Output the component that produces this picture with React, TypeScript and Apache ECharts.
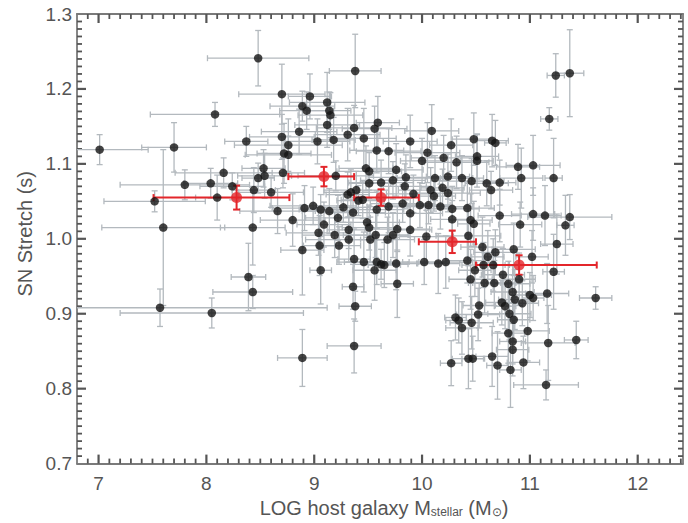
import { useEffect, useRef } from "react";
import * as echarts from "echarts";

// Individual supernovae: host mass (log M_stellar), stretch, and their errors
const massValues = [
  7.01, 7.52, 7.6, 7.7, 7.8, 7.57, 8.05, 8.08, 8.04, 8.16, 8.1, 8.24, 8.37, 8.48, 8.44, 8.43, 8.48, 8.53, 8.39, 8.43,
  8.54, 8.6, 8.66, 8.7, 8.7, 8.71, 8.72, 8.76, 8.76, 8.8, 8.86, 8.89, 8.93, 8.89, 8.91, 8.89, 8.96, 8.99, 9.03, 9.06,
  9.04, 9.05, 9.06, 9.09, 9.12, 9.12, 9.14, 9.15, 9.14, 9.18, 9.19, 9.2, 9.23, 9.22, 9.27, 9.31, 9.31, 9.32, 9.32, 9.36,
  9.34, 9.37, 9.38, 9.37, 9.36, 9.38, 9.37, 9.39, 9.41, 9.46, 9.45, 9.48, 9.51, 9.51, 9.51, 9.49, 9.52, 9.46, 9.56, 9.59,
  9.58, 9.57, 9.58, 9.56, 9.58, 9.62, 9.62, 9.65, 9.69, 9.69, 9.68, 9.73, 9.73, 9.76, 9.76, 9.77, 9.77, 9.82, 9.84, 9.85,
  9.89, 9.89, 9.89, 9.92, 9.98, 10.0, 10.02, 10.04, 10.05, 10.06, 10.08, 10.09, 10.11, 10.12, 10.15, 10.17, 10.19, 10.2, 10.22, 10.24,
  10.24, 10.27, 10.28, 10.28, 10.32, 10.37, 10.42, 10.42, 10.43, 10.45, 10.46, 10.48, 10.48, 10.45, 10.49, 10.27, 10.31, 10.34, 10.37, 10.43,
  10.47, 10.46, 10.51, 10.51, 10.52, 10.53, 10.56, 10.57, 10.58, 10.6, 10.61, 10.64, 10.65, 10.68, 10.65, 10.67, 10.66, 10.68, 10.7, 10.72,
  10.72, 10.74, 10.75, 10.77, 10.8, 10.81, 10.82, 10.84, 10.84, 10.84, 10.85, 10.85, 10.86, 10.89, 10.9, 10.91, 10.92, 10.93, 10.94, 10.98,
  10.8, 11.0, 11.02, 11.03, 11.03, 11.03, 11.14, 11.15, 11.16, 11.17, 11.18, 11.22, 11.22, 11.24, 11.25, 11.33, 11.37, 11.37, 11.43, 11.61,
];
const stretchValues = [
  1.119, 1.05, 1.015, 1.122, 1.072, 0.908, 0.901, 1.166, 1.074, 1.088, 1.055, 1.07, 1.13, 1.241, 1.065, 1.015, 1.081, 1.094, 0.949, 0.929,
  1.084, 1.062, 1.037, 1.193, 1.136, 1.088, 1.114, 1.112, 1.125, 1.025, 1.143, 1.177, 1.171, 0.985, 1.041, 0.841, 1.19, 1.044, 1.13, 1.039,
  1.008, 0.991, 0.958, 1.019, 1.182, 1.152, 1.171, 1.165, 1.037, 1.132, 1.005, 1.084, 0.991, 1.028, 1.042, 1.139, 1.059, 1.012, 0.999, 1.035,
  1.062, 1.148, 1.224, 0.973, 0.936, 0.91, 0.857, 1.065, 1.051, 1.134, 1.052, 1.094, 1.09, 1.074, 1.015, 1.022, 0.999, 0.969, 1.147, 1.155,
  1.118, 1.005, 1.039, 0.958, 0.969, 0.966, 1.075, 0.965, 1.117, 1.043, 0.999, 1.005, 1.078, 1.092, 0.967, 1.013, 0.94, 1.047, 1.07, 1.082,
  1.13, 1.034, 1.012, 1.06, 1.045, 1.104, 0.969, 1.003, 1.115, 1.045, 1.065, 1.144, 1.057, 1.081, 0.967, 1.043, 1.068, 1.108, 0.969, 1.083,
  1.061, 1.125, 1.04, 1.026, 1.102, 1.081, 1.041, 0.971, 1.004, 1.025, 1.077, 1.02, 1.133, 0.946, 0.958, 0.834, 0.895, 0.891, 0.881, 0.84,
  0.84, 0.888, 1.11, 1.104, 0.899, 0.911, 0.989, 0.965, 0.941, 1.074, 0.976, 1.065, 1.131, 1.128, 0.843, 0.941, 0.965, 0.982, 0.831, 1.031,
  1.075, 0.915, 0.952, 0.91, 0.874, 0.9, 0.825, 0.852, 0.863, 0.929, 0.892, 0.986, 0.919, 1.096, 0.946, 1.019, 1.081, 0.914, 0.835, 0.877,
  0.94, 0.925, 0.976, 1.033, 1.098, 0.921, 1.031, 0.805, 0.927, 0.861, 1.16, 1.081, 0.956, 1.218, 0.993, 1.018, 1.221, 1.029, 0.865, 0.921,
];
const massErrors = [
  0.45, 0.47, 0.57, 0.3, 0.6, 1.55, 0.85, 0.6, 0.25, 0.45, 0.2, 0.3, 0.2, 0.47, 0.2, 0.3, 0.15, 0.2, 0.16, 0.37,
  0.25, 0.3, 0.35, 0.4, 0.3, 0.2, 0.25, 0.4, 0.5, 0.3, 0.35, 0.3, 0.25, 0.2, 0.3, 0.23, 0.2, 0.4, 0.3, 0.2,
  0.3, 0.15, 0.1, 0.25, 0.35, 0.3, 0.2, 0.3, 0.25, 0.2, 0.3, 0.35, 0.2, 0.3, 0.25, 0.3, 0.2, 0.2, 0.4, 0.3,
  0.25, 0.35, 0.24, 0.15, 0.1, 0.15, 0.25, 0.3, 0.2, 0.3, 0.2, 0.25, 0.3, 0.2, 0.25, 0.3, 0.2, 0.25, 0.3, 0.2,
  0.25, 0.3, 0.25, 0.2, 0.3, 0.25, 0.3, 0.15, 0.3, 0.2, 0.25, 0.15, 0.3, 0.25, 0.2, 0.3, 0.15, 0.3, 0.2, 0.35,
  0.25, 0.3, 0.2, 0.25, 0.3, 0.2, 0.2, 0.25, 0.3, 0.2, 0.3, 0.25, 0.2, 0.35, 0.2, 0.3, 0.2, 0.3, 0.25, 0.2,
  0.3, 0.2, 0.25, 0.2, 0.3, 0.2, 0.25, 0.2, 0.3, 0.2, 0.3, 0.15, 0.2, 0.2, 0.15, 0.1, 0.1, 0.12, 0.15, 0.15,
  0.1, 0.2, 0.2, 0.15, 0.2, 0.15, 0.2, 0.2, 0.15, 0.2, 0.15, 0.2, 0.15, 0.1, 0.15, 0.2, 0.15, 0.2, 0.1, 0.2,
  0.15, 0.15, 0.2, 0.1, 0.15, 0.2, 0.1, 0.15, 0.12, 0.2, 0.15, 0.2, 0.15, 0.2, 0.15, 0.2, 0.2, 0.15, 0.15, 0.2,
  0.2, 0.2, 0.15, 0.2, 0.25, 0.1, 0.15, 0.3, 0.2, 0.25, 0.08, 0.08, 0.1, 0.08, 0.15, 0.08, 0.13, 0.39, 0.11, 0.15,
];
const stretchErrors = [
  0.02, 0.014, 0.104, 0.033, 0.02, 0.025, 0.02, 0.016, 0.02, 0.02, 0.03, 0.018, 0.02, 0.037, 0.03, 0.05, 0.02, 0.025, 0.045, 0.022,
  0.03, 0.02, 0.03, 0.04, 0.03, 0.02, 0.04, 0.025, 0.035, 0.035, 0.03, 0.02, 0.025, 0.06, 0.03, 0.038, 0.03, 0.025, 0.03, 0.02,
  0.03, 0.04, 0.045, 0.03, 0.04, 0.03, 0.025, 0.03, 0.03, 0.03, 0.03, 0.02, 0.025, 0.03, 0.02, 0.035, 0.03, 0.025, 0.03, 0.02,
  0.03, 0.03, 0.049, 0.04, 0.03, 0.02, 0.036, 0.025, 0.02, 0.04, 0.025, 0.03, 0.025, 0.02, 0.03, 0.02, 0.03, 0.04, 0.03, 0.035,
  0.03, 0.03, 0.025, 0.04, 0.03, 0.02, 0.03, 0.03, 0.03, 0.035, 0.03, 0.03, 0.025, 0.035, 0.035, 0.03, 0.045, 0.025, 0.03, 0.03,
  0.035, 0.02, 0.035, 0.025, 0.03, 0.03, 0.03, 0.035, 0.04, 0.025, 0.03, 0.035, 0.02, 0.03, 0.04, 0.03, 0.025, 0.03, 0.035, 0.03,
  0.025, 0.035, 0.03, 0.025, 0.035, 0.03, 0.035, 0.03, 0.04, 0.035, 0.03, 0.03, 0.035, 0.04, 0.035, 0.03, 0.03, 0.03, 0.035, 0.04,
  0.03, 0.035, 0.03, 0.035, 0.035, 0.03, 0.04, 0.03, 0.04, 0.03, 0.035, 0.025, 0.035, 0.03, 0.04, 0.03, 0.035, 0.03, 0.045, 0.035,
  0.03, 0.03, 0.035, 0.03, 0.04, 0.035, 0.05, 0.035, 0.03, 0.035, 0.03, 0.035, 0.04, 0.03, 0.035, 0.03, 0.04, 0.03, 0.035, 0.04,
  0.03, 0.03, 0.035, 0.035, 0.04, 0.03, 0.04, 0.02, 0.04, 0.05, 0.015, 0.053, 0.05, 0.029, 0.04, 0.04, 0.058, 0.03, 0.025, 0.015,
];

// Binned means (red)
const binMass = [8.28, 9.09, 9.62, 10.28, 10.9];
const binStretch = [1.055, 1.083, 1.055, 0.996, 0.965];
const binMassLow = [7.51, 8.76, 9.37, 9.97, 10.5];
const binMassHigh = [8.77, 9.37, 9.97, 10.5, 11.62];
const binStretchErr = [0.016, 0.013, 0.011, 0.015, 0.013];

// Axis ticks
const xMajorTicks = [7, 8, 9, 10, 11, 12];
const yMajorTicks = [0.7, 0.8, 0.9, 1.0, 1.1, 1.2, 1.3];
const X_MIN = 6.8;
const X_MAX = 12.42;
const Y_MIN = 0.7;
const Y_MAX = 1.3;

const AXIS_COLOR = "#7a7a7a";
const TICK_COLOR = "#555555";
const TEXT_COLOR = "#555555";
const FONT = "'Liberation Sans', Arial, Helvetica, sans-serif";

function makeErrRenderer(color: string, lw: number, cap: number) {
  return (params: any, api: any) => {
    const cs = params.coordSys;
    const L = cs.x, R = cs.x + cs.width, T = cs.y, B = cs.y + cs.height;
    const xc = api.value(0), yc = api.value(1);
    const c = api.coord([xc, yc]);
    const pl = api.coord([api.value(2), yc]);
    const pr = api.coord([api.value(3), yc]);
    const pb = api.coord([xc, api.value(4)]);
    const pt = api.coord([xc, api.value(5)]);
    const style = { stroke: color, lineWidth: lw, fill: null };
    const children: any[] = [];
    const x1 = Math.max(L, pl[0]);
    const x2 = Math.min(R, pr[0]);
    children.push({ type: "line", shape: { x1, y1: c[1], x2, y2: c[1] }, style });
    if (pl[0] >= L) children.push({ type: "line", shape: { x1: pl[0], y1: c[1] - cap, x2: pl[0], y2: c[1] + cap }, style });
    if (pr[0] <= R) children.push({ type: "line", shape: { x1: pr[0], y1: c[1] - cap, x2: pr[0], y2: c[1] + cap }, style });
    const y1 = Math.max(T, pt[1]);
    const y2 = Math.min(B, pb[1]);
    children.push({ type: "line", shape: { x1: c[0], y1, x2: c[0], y2 }, style });
    if (pt[1] >= T) children.push({ type: "line", shape: { x1: c[0] - cap, y1: pt[1], x2: c[0] + cap, y2: pt[1] }, style });
    if (pb[1] <= B) children.push({ type: "line", shape: { x1: c[0] - cap, y1: pb[1], x2: c[0] + cap, y2: pb[1] }, style });
    return { type: "group", children };
  };
}

// Inward ticks on both opposite sides of the frame (IDL style)
function makeTickRenderer(dim: "x" | "y") {
  return (params: any, api: any) => {
    const cs = params.coordSys;
    const L = cs.x, R = cs.x + cs.width, T = cs.y, B = cs.y + cs.height;
    const v = dim === "x" ? api.value(0) : api.value(1);
    const scaled = dim === "x" ? v : v * 10;
    const major = Math.abs(scaled - Math.round(scaled)) < 1e-6;
    const len = major ? 9 : 5;
    const p = api.coord([api.value(0), api.value(1)]);
    const lw = major ? 2.2 : 1.8;
    if (dim === "x") {
      return {
        type: "group",
        children: [
          { type: "line", shape: { x1: p[0], y1: B, x2: p[0], y2: B - len }, style: { stroke: TICK_COLOR, lineWidth: lw } },
          { type: "line", shape: { x1: p[0], y1: T, x2: p[0], y2: T + len }, style: { stroke: TICK_COLOR, lineWidth: lw } },
        ],
      };
    }
    return {
      type: "group",
      children: [
        { type: "line", shape: { x1: L, y1: p[1], x2: L + len, y2: p[1] }, style: { stroke: TICK_COLOR, lineWidth: lw } },
        { type: "line", shape: { x1: R, y1: p[1], x2: R - len, y2: p[1] }, style: { stroke: TICK_COLOR, lineWidth: lw } },
      ],
    };
  };
}

export default function App() {
  const ref = useRef<HTMLDivElement>(null);

  useEffect(() => {
    if (!ref.current) return;
    const chart = echarts.init(ref.current, undefined, { renderer: "svg" });

    // tick positions along each axis (anchor on the other axis is irrelevant)
    const xTickData: number[][] = [];
    for (let i = 69; i <= 124; i++) xTickData.push([i / 10, 1.0]);
    const yTickData: number[][] = [];
    for (let i = 71; i <= 129; i++) yTickData.push([9, i / 100]);

    const snErr = massValues.map((m, i) => [
      m,
      stretchValues[i],
      m - massErrors[i],
      m + massErrors[i],
      stretchValues[i] - stretchErrors[i],
      stretchValues[i] + stretchErrors[i],
    ]);
    const snPts = massValues.map((m, i) => [m, stretchValues[i]]);
    const binErr = binMass.map((m, i) => [
      m,
      binStretch[i],
      binMassLow[i],
      binMassHigh[i],
      binStretch[i] - binStretchErr[i],
      binStretch[i] + binStretchErr[i],
    ]);
    const binPts = binMass.map((m, i) => [m, binStretch[i]]);

    chart.setOption({
      animation: false,
      backgroundColor: "#ffffff",
      grid: { left: 77, right: 5, top: 14, bottom: 55, containLabel: false },
      xAxis: [
        {
          type: "value",
          min: X_MIN,
          max: X_MAX,
          position: "bottom",
          splitLine: { show: false },
          name: "LOG host galaxy M{sub|stellar} (M{sub|⊙})",
          nameLocation: "middle",
          nameGap: 26,
          nameTextStyle: {
            color: TEXT_COLOR,
            fontFamily: FONT,
            fontSize: 20,
            padding: [0, 0, 0, 8],
            rich: {
              sub: { fontSize: 12, fontFamily: FONT, color: TEXT_COLOR, padding: [9, 0, 0, 0] },
            },
          },
          axisLine: { show: true, lineStyle: { color: AXIS_COLOR, width: 1.8 } },
          axisTick: { show: false },
          axisLabel: { show: true, customValues: xMajorTicks, color: TEXT_COLOR, fontFamily: FONT, fontSize: 19, margin: 10 },
        },
        {
          type: "value",
          min: X_MIN,
          max: X_MAX,
          position: "top",
          splitLine: { show: false },
          axisLine: { show: true, lineStyle: { color: AXIS_COLOR, width: 1.8 } },
          axisTick: { show: false },
          axisLabel: { show: false },
        },
      ],
      yAxis: [
        {
          type: "value",
          position: "left",
          min: Y_MIN,
          max: Y_MAX,
          interval: 0.1,
          name: "SN Stretch (s)",
          nameLocation: "middle",
          nameGap: 42,
          nameTextStyle: { color: TEXT_COLOR, fontFamily: FONT, fontSize: 20, padding: [0, 0, 0, 10] },
          splitLine: { show: false },
          axisLine: { show: true, lineStyle: { color: AXIS_COLOR, width: 1.8 } },
          axisTick: { show: false },
          axisLabel: {
            customValues: yMajorTicks,
            color: TEXT_COLOR,
            fontFamily: FONT,
            fontSize: 19,
            margin: 5,
            formatter: (v: number) => v.toFixed(1),
          },
        },
        {
          type: "value",
          position: "right",
          min: Y_MIN,
          max: Y_MAX,
          interval: 0.1,
          splitLine: { show: false },
          axisLine: { show: true, lineStyle: { color: AXIS_COLOR, width: 1.8 } },
          axisTick: { show: false },
          axisLabel: { show: false },
        },
      ],
      series: [
        {
          type: "custom",
          renderItem: makeTickRenderer("x"),
          data: xTickData,
          encode: { x: 0, y: 1 },
        },
        {
          type: "custom",
          renderItem: makeTickRenderer("y"),
          data: yTickData,
          encode: { x: 0, y: 1 },
        },
        {
          type: "custom",
          xAxisIndex: 0,
          yAxisIndex: 0,
          renderItem: makeErrRenderer("#b3b9be", 1.3, 3),
          data: snErr,
          encode: { x: [0, 2, 3], y: [1, 4, 5] },
          silent: true,
        },
        {
          type: "scatter",
          xAxisIndex: 0,
          yAxisIndex: 0,
          data: snPts,
          symbol: "circle",
          symbolSize: 8.5,
          itemStyle: { color: "#141414" },
          silent: true,
        },
        {
          type: "custom",
          xAxisIndex: 0,
          yAxisIndex: 0,
          renderItem: makeErrRenderer("#e3262b", 2, 3.5),
          data: binErr,
          encode: { x: [0, 2, 3], y: [1, 4, 5] },
          silent: true,
        },
        {
          type: "scatter",
          xAxisIndex: 0,
          yAxisIndex: 0,
          data: binPts,
          symbol: "circle",
          symbolSize: 11,
          itemStyle: { color: "#e3262b" },
          silent: true,
        },
      ],
    });

    return () => chart.dispose();
  }, []);

  return (
    <div
      ref={ref}
      style={{ position: "fixed", left: 0, top: 0, width: 688, height: 523, background: "#fff" }}
    />
  );
}
